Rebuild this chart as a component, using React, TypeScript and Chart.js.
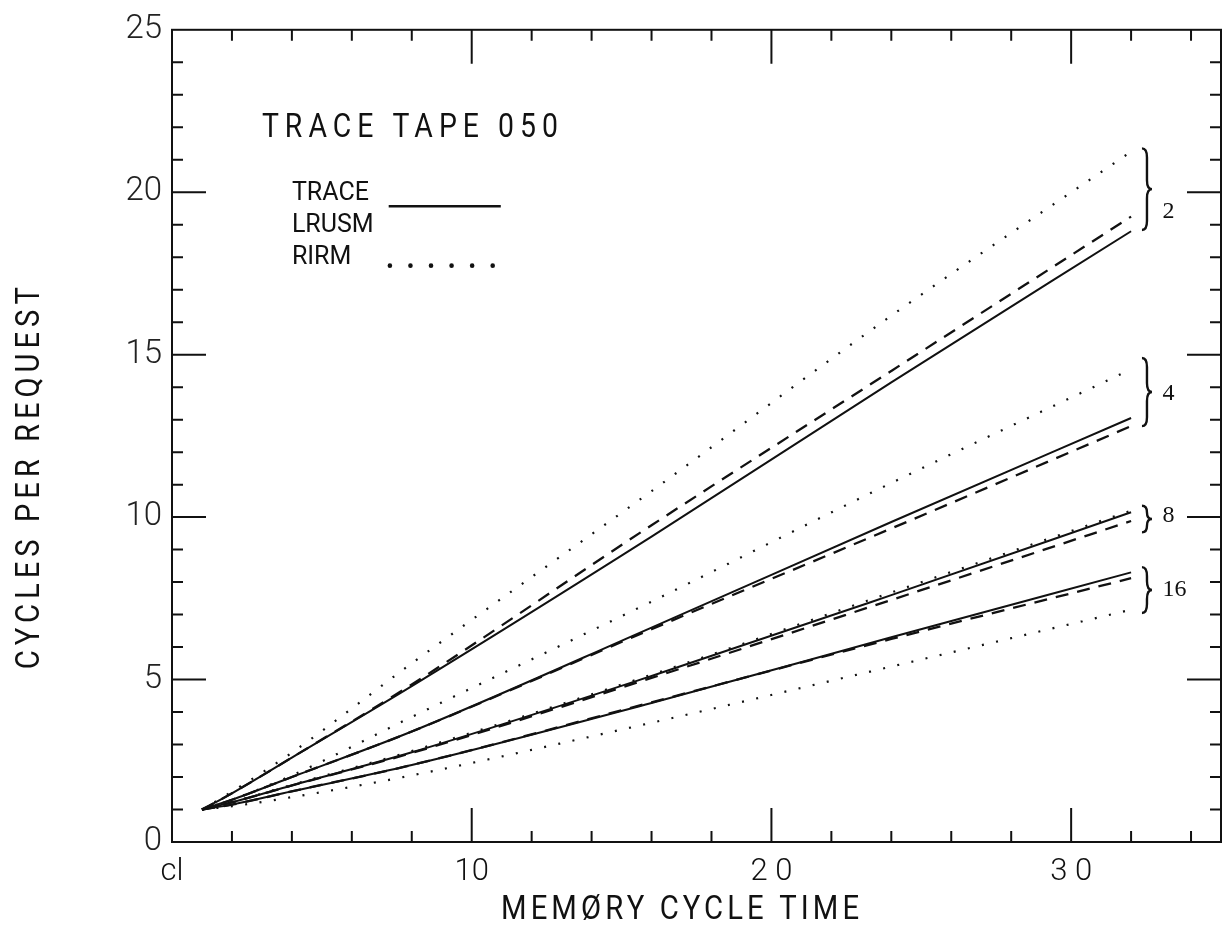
import React, { useEffect, useRef } from "react";
import { Chart, registerables } from "chart.js";

Chart.register(...registerables);

// ---------- data ----------
const cycleTimes = [1, 2, 4, 8, 16, 24, 32];

const trace2 = [1, 1.5, 2.6, 4.8, 9.4, 14.15, 18.8];
const lrusm2 = [1, 1.5, 2.6, 4.85, 9.75, 14.5, 19.25];
const rirm2 = [1, 1.55, 2.75, 5.5, 10.8, 16.2, 21.25];

const trace4 = [1, 1.3, 2.0, 3.4, 6.6, 9.85, 13.05];
const lrusm4 = [1, 1.3, 2.0, 3.4, 6.55, 9.65, 12.8];
const rirm4 = [1, 1.3, 2.05, 3.85, 7.4, 11.05, 14.55];

const trace8 = [1, 1.22, 1.74, 2.76, 5.11, 7.6, 10.15];
const lrusm8 = [1, 1.22, 1.74, 2.74, 5.05, 7.45, 9.88];
const rirm8 = [1, 1.23, 1.76, 2.8, 5.15, 7.68, 10.2];

const trace16 = [1, 1.15, 1.56, 2.37, 4.28, 6.3, 8.3];
const lrusm16 = [1, 1.15, 1.56, 2.37, 4.3, 6.25, 8.12];
const rirm16 = [1, 1.1, 1.38, 2.05, 3.67, 5.4, 7.15];

const groupLabels = ["2", "4", "8", "16"];
const braceTops = [21.35, 14.9, 10.35, 8.46];
const braceBottoms = [18.84, 12.8, 9.53, 7.05];
const groupLabelYs = [19.4, 13.8, 10.05, 7.76];

const xTickValues = [0, 10, 20, 30];
const xTickLabels = ["cl", "10", "2 0", "3 0"];
const yTickValues = [0, 5, 10, 15, 20, 25];
const yTickLabels = ["0", "5", "10", "15", "20", "25"];

const legendNames = ["TRACE", "LRUSM", "RIRM"];
const chartTitle = "TRACE TAPE 050";
const xTitle = "MEMØRY CYCLE TIME";
const yTitle = "CYCLES PER REQUEST";

// ---------- styling ----------
const INK = "#111";
const X_MIN = 0;
const X_MAX = 35;
const Y_MIN = 0;
const Y_MAX = 25;
const X_MINOR_STEP = 2;
const X_MAJOR_STEP = 10;
const Y_MINOR_STEP = 1;
const Y_MAJOR_STEP = 5;

const solidStyle = { borderDash: [] as number[], borderWidth: 2 };
const dashedStyle = { borderDash: [13, 9], borderWidth: 2.3 };
const dottedStyle = { borderDash: [2, 12.5], borderWidth: 2.2 };

const groups = [
  [trace2, lrusm2, rirm2],
  [trace4, lrusm4, rirm4],
  [trace8, lrusm8, rirm8],
  [trace16, lrusm16, rirm16],
];
const styles = [solidStyle, dashedStyle, dottedStyle];

function toPoints(ys: number[]) {
  return ys.map((y, i) => ({ x: cycleTimes[i], y }));
}

// text squeezed horizontally (sx) and letter-spaced to span `width`
function spacedText(ctx: any, text: string, x: number, y: number, width: number, sx: number) {
  ctx.save();
  ctx.translate(x, y);
  ctx.scale(sx, 1);
  ctx.letterSpacing = "0px";
  const w0 = ctx.measureText(text).width;
  const target = width / sx;
  const ls = text.length > 1 ? (target - w0) / (text.length - 1) : 0;
  ctx.letterSpacing = ls + "px";
  ctx.textAlign = "left";
  ctx.fillText(text, 0, 0);
  ctx.restore();
}

function drawBrace(ctx: any, x: number, yTop: number, yBot: number) {
  const w = 5;
  const ym = (yTop + yBot) / 2;
  const r = Math.min(9, (yBot - yTop) / 4);
  ctx.beginPath();
  ctx.moveTo(x - w, yTop);
  ctx.quadraticCurveTo(x, yTop, x, yTop + r);
  ctx.lineTo(x, ym - r);
  ctx.quadraticCurveTo(x, ym, x + w, ym);
  ctx.quadraticCurveTo(x, ym, x, ym + r);
  ctx.lineTo(x, yBot - r);
  ctx.quadraticCurveTo(x, yBot, x - w, yBot);
  ctx.stroke();
}

const decorPlugin = {
  id: "decor",
  afterDraw(chart: any) {
    const { ctx, chartArea: a, scales } = chart;
    const px = (v: number) => scales.x.getPixelForValue(v);
    const py = (v: number) => scales.y.getPixelForValue(v);
    ctx.save();
    ctx.strokeStyle = INK;
    ctx.fillStyle = INK;
    ctx.lineWidth = 2;
    ctx.setLineDash([]);

    // frame
    ctx.strokeRect(a.left, a.top, a.right - a.left, a.bottom - a.top);

    // tick marks (inward, on all four sides)
    ctx.beginPath();
    for (let v = X_MIN + X_MINOR_STEP; v < X_MAX; v += X_MINOR_STEP) {
      const len = v % X_MAJOR_STEP === 0 ? 34 : 11;
      const x = px(v);
      ctx.moveTo(x, a.bottom);
      ctx.lineTo(x, a.bottom - len);
      ctx.moveTo(x, a.top);
      ctx.lineTo(x, a.top + len);
    }
    for (let v = Y_MIN + Y_MINOR_STEP; v < Y_MAX; v += Y_MINOR_STEP) {
      const len = v % Y_MAJOR_STEP === 0 ? 34 : 11;
      const y = py(v);
      ctx.moveTo(a.left, y);
      ctx.lineTo(a.left + len, y);
      ctx.moveTo(a.right, y);
      ctx.lineTo(a.right - len, y);
    }
    ctx.stroke();

    // axis titles
    ctx.textBaseline = "middle";
    ctx.font = '34px Roboto';
    const xtw = 358;
    spacedText(ctx, xTitle, px(16.95) - xtw / 2, a.bottom + 68, xtw, 0.86);

    ctx.save();
    ctx.translate(a.left - 142, py(11.2));
    ctx.rotate(-Math.PI / 2);
    const ytw = 382;
    spacedText(ctx, yTitle, -ytw / 2, 0, ytw, 0.86);
    ctx.restore();

    // chart title
    ctx.font = '33px Roboto';
    spacedText(ctx, chartTitle, px(3.0), py(21.96), 296, 0.86);

    // legend
    ctx.font = '25px Roboto';
    const legendYs = [19.94, 18.96, 17.98];
    legendNames.forEach((n, i) => {
      ctx.textAlign = "left";
      ctx.fillText(n, px(4.0), py(legendYs[i]));
    });
    ctx.lineWidth = 2.5;
    ctx.beginPath();
    ctx.moveTo(px(7.23), py(19.57));
    ctx.lineTo(px(10.97), py(19.57));
    ctx.stroke();
    for (let k = 0; k < 6; k++) {
      const xv = 7.27 + (k * (10.7 - 7.27)) / 5;
      ctx.beginPath();
      ctx.arc(px(xv), py(17.74), 2.3, 0, Math.PI * 2);
      ctx.fill();
    }

    // braces and group labels
    ctx.lineWidth = 2.4;
    ctx.font = '24px "Liberation Serif"';
    groupLabels.forEach((g, i) => {
      drawBrace(ctx, px(32.53), py(braceTops[i]), py(braceBottoms[i]));
      ctx.textAlign = "left";
      ctx.fillText(g, px(33.05), py(groupLabelYs[i]));
    });

    ctx.restore();
  },
};

export default function App() {
  const ref = useRef<HTMLCanvasElement>(null);

  useEffect(() => {
    if (!ref.current) return;
    const datasets: any[] = [];
    groups.forEach((grp, gi) => {
      grp.forEach((series, si) => {
        datasets.push({
          label: legendNames[si] + " " + groupLabels[gi],
          data: toPoints(series),
          borderColor: INK,
          backgroundColor: INK,
          borderWidth: styles[si].borderWidth,
          borderDash: styles[si].borderDash,
          borderCapStyle: "butt",
          pointRadius: 0,
          fill: false,
          cubicInterpolationMode: "monotone",
        });
      });
    });

    const chart = new Chart(ref.current, {
      type: "line",
      data: { datasets },
      options: {
        responsive: false,
        devicePixelRatio: 1,
        animation: false,
        events: [],
        layout: { padding: { top: 25, right: 1, left: 0, bottom: 0 } },
        plugins: {
          legend: { display: false },
          tooltip: { enabled: false },
          title: { display: false },
        },
        scales: {
          x: {
            type: "linear",
            min: X_MIN,
            max: X_MAX,
            grid: { display: false, drawTicks: false },
            border: { display: false },
            afterBuildTicks: (scale: any) => {
              scale.ticks = xTickValues.map((v) => ({ value: v }));
            },
            afterFit: (scale: any) => {
              scale.height = 86;
            },
            ticks: {
              autoSkip: false,
              maxRotation: 0,
              padding: 12,
              color: INK,
              font: { family: "Roboto", size: 31, weight: "300" },
              callback: (_v: any, i: number) => xTickLabels[i],
            },
          },
          y: {
            type: "linear",
            min: Y_MIN,
            max: Y_MAX,
            grid: { display: false, drawTicks: false },
            border: { display: false },
            afterBuildTicks: (scale: any) => {
              scale.ticks = yTickValues.map((v) => ({ value: v }));
            },
            afterFit: (scale: any) => {
              scale.width = 172;
            },
            ticks: {
              autoSkip: false,
              padding: 10,
              color: "#222",
              font: { family: "Roboto", size: 33, weight: "300" },
              callback: (_v: any, i: number) => yTickLabels[i],
            },
          },
        },
      },
      plugins: [decorPlugin],
    } as any);
    return () => chart.destroy();
  }, []);

  return (
    <div
      style={{
        position: "absolute",
        left: 0,
        top: 0,
        width: 1222,
        height: 928,
        background: "#fff",
      }}
    >
      <canvas
        ref={ref}
        width={1222}
        height={928}
        style={{ display: "block", width: 1222, height: 928 }}
      />
    </div>
  );
}
